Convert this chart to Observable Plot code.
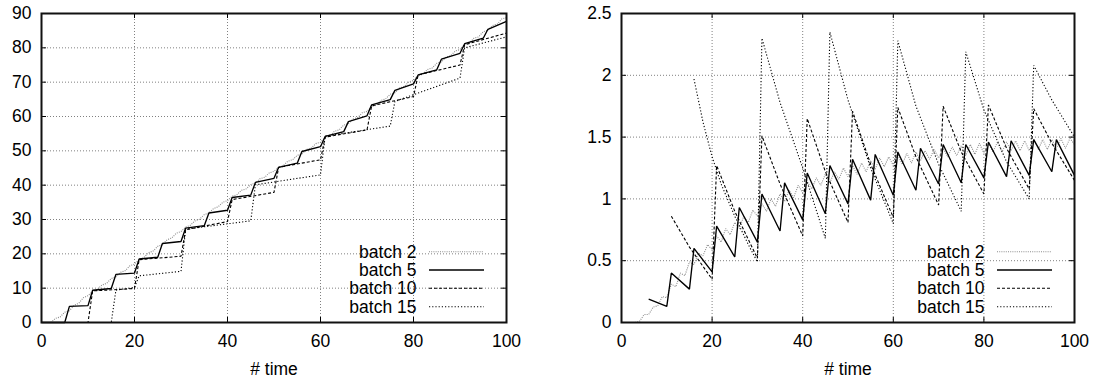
<!DOCTYPE html>
<html><head><meta charset="utf-8">
<script src="https://cdn.jsdelivr.net/npm/d3@7"></script>
<script src="https://cdn.jsdelivr.net/npm/@observablehq/plot@0.6"></script>
<style>
body{margin:0;background:#fff;}
#wrap{position:relative;width:1097px;height:380px;}
#wrap svg{position:absolute;top:0;}
</style></head><body><div id="wrap"></div>
<script>
// ---- tick values / labels ----
const xTicks = [0, 20, 40, 60, 80, 100];
const yTicksLeft = [0, 10, 20, 30, 40, 50, 60, 70, 80, 90];
const yTicksRight = [0, 0.5, 1, 1.5, 2, 2.5];
const seriesNames = ["batch 2", "batch 5", "batch 10", "batch 15"];
const xLabel = "# time";

// ---- left chart: cumulative value vs time ----
const leftBatch2 = [[2,0],[3,1.2],[4,1.6],[5,3.0],[6,3.4],[7,5.0],[8,5.6],[9,7.2],[10,7.8],[11,9.1],[12,9.6],[13,10.9],[14,11.4],[15,12.8],[16,13.3],[17,14.6],[18,15.1],[19,16.5],[20,17.0],[21,18.4],[22,18.9],[23,20.3],[24,20.8],[25,22.2],[26,22.7],[27,24.1],[28,24.6],[29,26.0],[30,26.5],[31,27.8],[32,28.3],[33,29.6],[34,30.1],[35,31.4],[36,31.9],[37,33.2],[38,33.7],[39,35.0],[40,35.5],[41,36.8],[42,37.2],[43,38.5],[44,38.9],[45,40.2],[46,40.6],[47,41.9],[48,42.3],[49,43.6],[50,44.0],[51,45.3],[52,45.7],[53,47.0],[54,47.4],[55,48.7],[56,49.1],[57,50.4],[58,50.8],[59,52.1],[60,52.5],[61,53.9],[62,54.3],[63,55.7],[64,56.1],[65,57.5],[66,57.9],[67,59.3],[68,59.7],[69,61.1],[70,61.5],[71,62.9],[72,63.3],[73,64.7],[74,65.1],[75,66.5],[76,66.9],[77,68.3],[78,68.7],[79,70.1],[80,70.5],[81,71.9],[82,72.3],[83,73.7],[84,74.1],[85,75.5],[86,75.9],[87,77.3],[88,77.7],[89,79.1],[90,79.5],[91,81.0],[92,81.4],[93,82.8],[94,83.2],[95,84.7],[96,85.1],[97,86.5],[98,86.9],[99,88.4],[100,88.8]];
const leftBatch5 = [[0,0],[5,0],[6,4.7],[10,4.9],[11,9.4],[15,9.9],[16,14.0],[20,14.4],[21,18.5],[25,19.0],[26,23.0],[30,23.6],[31,27.5],[35,28.2],[36,31.9],[40,32.7],[41,36.4],[45,37.1],[46,40.8],[50,42.0],[51,45.2],[55,46.4],[56,49.8],[60,51.2],[61,54.2],[65,55.6],[66,58.5],[70,60.2],[71,63.4],[75,64.9],[76,67.6],[80,69.5],[81,72.1],[85,73.6],[86,76.7],[90,78.4],[91,81.2],[95,82.8],[96,85.4],[100,87.7]];
const leftBatch10 = [[0,0],[10,0],[11,9.2],[20,9.9],[21,18.3],[30,19.3],[31,27.0],[40,29.4],[41,35.8],[50,37.9],[51,45.2],[60,47.4],[61,54.0],[70,56.1],[71,63.1],[80,65.8],[81,72.1],[90,75.0],[91,80.9],[100,84.3]];
const leftBatch15 = [[0,0],[15,0],[16,9.4],[20,10.2],[21,13.6],[30,14.9],[31,27.2],[45,29.6],[46,40.1],[60,43.0],[61,54.3],[75,57.2],[76,64.4],[90,71.2],[91,80.0],[100,83.2]];

// ---- right chart ----
const rightBatch2 = [[3,0.00],[4,0.01],[5,0.065],[6,0.065],[7,0.125],[8,0.135],[9,0.21],[10,0.20],[11,0.31],[12,0.29],[13,0.40],[14,0.38],[15,0.49],[16,0.47],[17,0.56],[18,0.54],[19,0.63],[20,0.59],[21,0.70],[22,0.65],[23,0.76],[24,0.71],[25,0.81],[26,0.76],[27,0.86],[28,0.81],[29,0.91],[30,0.86],[31,0.96],[32,0.90],[33,1.00],[34,0.94],[35,1.04],[36,0.98],[37,1.07],[38,1.01],[39,1.11],[40,1.05],[41,1.14],[42,1.08],[43,1.17],[44,1.11],[45,1.20],[46,1.13],[47,1.22],[48,1.16],[49,1.25],[50,1.18],[51,1.27],[52,1.20],[53,1.29],[54,1.22],[55,1.31],[56,1.24],[57,1.33],[58,1.26],[59,1.34],[60,1.27],[61,1.36],[62,1.28],[63,1.37],[64,1.29],[65,1.38],[66,1.31],[67,1.39],[68,1.32],[69,1.40],[70,1.33],[71,1.41],[72,1.34],[73,1.42],[74,1.35],[75,1.43],[76,1.35],[77,1.44],[78,1.36],[79,1.45],[80,1.37],[81,1.45],[82,1.38],[83,1.46],[84,1.38],[85,1.46],[86,1.39],[87,1.47],[88,1.39],[89,1.47],[90,1.39],[91,1.48],[92,1.40],[93,1.48],[94,1.40],[95,1.48],[96,1.41],[97,1.49],[98,1.41],[99,1.49],[100,1.44]];
const rightBatch5 = [[6,0.19],[10,0.13],[11,0.40],[15,0.27],[16,0.60],[20,0.41],[21,0.78],[25,0.53],[26,0.93],[30,0.65],[31,1.04],[35,0.74],[36,1.13],[40,0.83],[41,1.21],[45,0.88],[46,1.27],[50,0.96],[51,1.32],[55,0.99],[56,1.36],[60,1.03],[61,1.38],[65,1.07],[66,1.41],[70,1.12],[71,1.44],[75,1.13],[76,1.44],[80,1.17],[81,1.46],[85,1.18],[86,1.47],[90,1.19],[91,1.48],[95,1.22],[96,1.48],[100,1.19]];
const rightBatch10 = [[11,0.86],[15,0.61],[20,0.35],[21,1.27],[25,0.90],[30,0.52],[31,1.51],[35,1.12],[40,0.70],[41,1.65],[45,1.22],[50,0.81],[51,1.71],[55,1.28],[60,0.85],[61,1.74],[65,1.34],[70,0.95],[71,1.75],[75,1.38],[80,1.04],[81,1.76],[85,1.41],[90,1.08],[91,1.73],[95,1.45],[100,1.15]];
const rightBatch15 = [[16,1.97],[18,1.62],[20,1.34],[22,1.12],[25,0.86],[28,0.63],[30,0.49],[31,2.30],[35,1.78],[40,1.25],[45,0.68],[46,2.35],[50,1.80],[55,1.25],[60,0.80],[61,2.28],[65,1.75],[70,1.28],[75,0.90],[76,2.19],[80,1.72],[85,1.30],[90,1.00],[91,2.08],[95,1.80],[100,1.50]];

// ---- styles ----
const FONT = "'Liberation Sans', Arial, Helvetica, sans-serif";
const FS = 17.5;
const lineStyles = [
  {stroke: "#8c8c8c", strokeWidth: 1.1, strokeDasharray: "1,1.2"},
  {stroke: "#000", strokeWidth: 1.35, strokeDasharray: null},
  {stroke: "#000", strokeWidth: 1.1, strokeDasharray: "3,2"},
  {stroke: "#000", strokeWidth: 1.1, strokeDasharray: "1.2,2"}
];

function makeChart({series, yDomain, yTicks, width, marginLeft, marginRight, left}) {
  const height = 380, marginTop = 13, marginBottom = 58;
  const plotW = width - marginLeft - marginRight;
  const plotH = height - marginTop - marginBottom;
  const tickLen = 5;
  const lineMarks = series.map((data, i) => Plot.line(data, {
    x: d => d[0], y: d => d[1], ...lineStyles[i],
    strokeLinejoin: "miter", strokeLinecap: "butt"
  }));
  const svg = Plot.plot({
    width, height, marginLeft, marginRight, marginTop, marginBottom,
    style: {fontFamily: FONT, fontSize: FS + "px", background: "white", color: "#000"},
    x: {domain: [0, 100]},
    y: {domain: yDomain},
    marks: [
      Plot.gridX(xTicks, {stroke: "#808080", strokeOpacity: 1, strokeWidth: 1, strokeDasharray: "1,2"}),
      Plot.gridY(yTicks, {stroke: "#808080", strokeOpacity: 1, strokeWidth: 1, strokeDasharray: "1,2"}),
      ...lineMarks,
      Plot.tickX(xTicks, {x: d => d, insetTop: plotH - tickLen, stroke: "#000"}),
      Plot.tickX(xTicks, {x: d => d, insetBottom: plotH - tickLen, stroke: "#000"}),
      Plot.tickY(yTicks, {y: d => d, insetRight: plotW - tickLen, stroke: "#000"}),
      Plot.tickY(yTicks, {y: d => d, insetLeft: plotW - tickLen, stroke: "#000"}),
      Plot.frame({stroke: "#111", strokeWidth: 2}),
      Plot.axisX(xTicks, {tickSize: 0, tickPadding: 12.3, fontSize: FS, label: null, tickFormat: d => String(d)}),
      Plot.axisY(yTicks, {tickSize: 0, tickPadding: 10, fontSize: FS, label: null, tickFormat: d => String(d)}),
      Plot.text([xLabel], {frameAnchor: "bottom", dy: 52, lineAnchor: "bottom", fontSize: FS, text: d => d, fill: "#000"})
    ]
  });
  svg.style.left = left + "px";
  // legend (bottom-right, inside frame)
  const s = d3.select(svg);
  const frameRight = width - marginRight;
  const frameBottom = height - marginBottom;
  const rowOffsets = [70.3, 52, 33.7, 15.3];
  seriesNames.forEach((name, i) => {
    const y = frameBottom - rowOffsets[i];
    s.append("text").attr("x", frameRight - 89.5).attr("y", y + 6)
      .attr("text-anchor", "end").attr("font-size", FS).attr("font-family", FONT)
      .attr("fill", "#000").text(name);
    const st = lineStyles[i];
    s.append("line").attr("x1", frameRight - 77).attr("x2", frameRight - 22)
      .attr("y1", y).attr("y2", y)
      .attr("stroke", st.stroke).attr("stroke-width", st.strokeWidth)
      .attr("stroke-dasharray", st.strokeDasharray);
  });
  document.getElementById("wrap").appendChild(svg);
}

makeChart({
  series: [leftBatch2, leftBatch5, leftBatch10, leftBatch15],
  yDomain: [0, 90], yTicks: yTicksLeft,
  width: 548, marginLeft: 41, marginRight: 42, left: 0
});
makeChart({
  series: [rightBatch2, rightBatch5, rightBatch10, rightBatch15],
  yDomain: [0, 2.5], yTicks: yTicksRight,
  width: 549, marginLeft: 73, marginRight: 23, left: 548
});
</script></body></html>
